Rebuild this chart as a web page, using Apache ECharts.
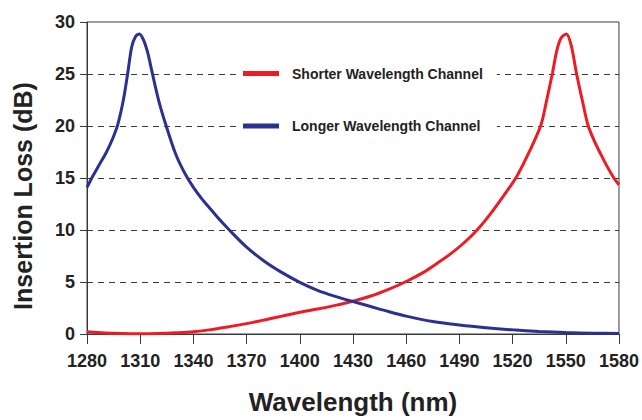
<!DOCTYPE html>
<html>
<head>
<meta charset="utf-8">
<script src="https://cdn.jsdelivr.net/npm/echarts@6/dist/echarts.min.js"></script>
<style>
html,body{margin:0;padding:0;background:#fff;}
#chart{width:642px;height:420px;}
</style>
</head>
<body>
<div id="chart"></div>
<script>
var seriesNames = ['Shorter Wavelength Channel', 'Longer Wavelength Channel'];
var xTicks = [1280, 1310, 1340, 1370, 1400, 1430, 1460, 1490, 1520, 1550, 1580];
var yTicks = [0, 5, 10, 15, 20, 25, 30];

var redX = [1280, 1290, 1300, 1310, 1320, 1330, 1340, 1350, 1360, 1370, 1380, 1390, 1400, 1410, 1420, 1430, 1440, 1450, 1460, 1470, 1477.5, 1485, 1492.5, 1500, 1507.5, 1515, 1522.5, 1529.5, 1536, 1539, 1542.5, 1545, 1547.5, 1550.3, 1553, 1556, 1559.4, 1562.5, 1566, 1570, 1574, 1577.5, 1580];
var redY = [0.22, 0.1, 0.04, 0.02, 0.05, 0.12, 0.22, 0.42, 0.7, 1.0, 1.35, 1.72, 2.1, 2.4, 2.75, 3.15, 3.65, 4.3, 5.05, 5.95, 6.8, 7.7, 8.75, 10.0, 11.55, 13.3, 15.2, 17.55, 20.1, 22.3, 25.1, 27.3, 28.5, 28.85, 27.8, 25.1, 22.4, 20.1, 18.6, 17.2, 15.9, 14.9, 14.35];

var blueX = [1280, 1283, 1287, 1291, 1294.5, 1297.3, 1300.5, 1302.9, 1305.2, 1307.4, 1309.5, 1311.8, 1314.3, 1316.8, 1320.5, 1324.5, 1330, 1335, 1340, 1345, 1350, 1355, 1360, 1370, 1380, 1390, 1400, 1410, 1420, 1430, 1440, 1450, 1460, 1475, 1490, 1505, 1520, 1535, 1550, 1565, 1580];
var blueY = [14.1, 15.1, 16.3, 17.5, 18.8, 20.1, 22.5, 25.0, 27.6, 28.6, 28.85, 28.3, 27.0, 25.1, 22.4, 20.1, 17.3, 15.5, 14.1, 12.95, 11.95, 10.95, 10.05, 8.35, 7.0, 5.9, 4.97, 4.2, 3.62, 3.12, 2.64, 2.16, 1.72, 1.2, 0.86, 0.6, 0.4, 0.25, 0.14, 0.08, 0.05];

function pairs(xs, ys) {
  return xs.map(function (x, i) { return [x, ys[i]]; });
}

var chart = echarts.init(document.getElementById('chart'), null, {renderer: 'svg'});
var txt = '#222';
var axisCol = '#3a3a3a';
var font = 'Liberation Sans, Arial, sans-serif';

chart.setOption({
  animation: false,
  backgroundColor: '#fff',
  grid: {
    left: 87, right: 22, top: 22, bottom: 82.5,
    show: true, borderColor: axisCol, borderWidth: 1, backgroundColor: 'transparent'
  },
  legend: {
    orient: 'vertical',
    left: 239,
    top: 62.5,
    itemGap: 38.5,
    itemWidth: 36,
    itemHeight: 5,
    icon: 'rect',
    backgroundColor: '#fff',
    padding: [4, 14, 4, 4],
    textStyle: {fontFamily: font, fontWeight: 'bold', fontSize: 14, color: txt, padding: [0, 0, 0, 8]},
    data: seriesNames
  },
  xAxis: {
    type: 'value',
    min: xTicks[0],
    max: xTicks[xTicks.length - 1],
    interval: xTicks[1] - xTicks[0],
    name: 'Wavelength (nm)',
    nameLocation: 'middle',
    nameGap: 55,
    nameTextStyle: {fontFamily: font, fontWeight: 'bold', fontSize: 26, color: txt},
    axisLine: {show: true, lineStyle: {color: axisCol, width: 1}},
    axisTick: {show: true, length: 10, lineStyle: {color: axisCol, width: 1}},
    axisLabel: {margin: 18, fontFamily: font, fontWeight: 'bold', fontSize: 18, color: txt,
      formatter: function (v) { return String(v); }},
    splitLine: {show: false}
  },
  yAxis: {
    type: 'value',
    min: yTicks[0],
    max: yTicks[yTicks.length - 1],
    interval: yTicks[1] - yTicks[0],
    name: 'Insertion Loss (dB)',
    nameLocation: 'middle',
    nameGap: 52,
    nameTextStyle: {fontFamily: font, fontWeight: 'bold', fontSize: 25, color: txt, padding: [0, 36, 0, 0]},
    axisLine: {show: true, lineStyle: {color: axisCol, width: 1}},
    axisTick: {show: true, length: 7, lineStyle: {color: axisCol, width: 1}},
    axisLabel: {margin: 12, fontFamily: font, fontWeight: 'bold', fontSize: 18, color: txt},
    splitLine: {show: true, showMinLine: false, showMaxLine: false, lineStyle: {color: axisCol, width: 1, type: [6, 5]}}
  },
  series: [
    {
      name: seriesNames[0],
      type: 'line',
      data: pairs(redX, redY),
      smooth: 0.3,
      showSymbol: false,
      symbol: 'none',
      color: '#ed1c24',
      lineStyle: {color: '#ed1c24', width: 3},
      z: 3
    },
    {
      name: seriesNames[1],
      type: 'line',
      data: pairs(blueX, blueY),
      smooth: 0.3,
      showSymbol: false,
      symbol: 'none',
      color: '#2b3190',
      lineStyle: {color: '#2b3190', width: 3},
      z: 3
    }
  ]
});
</script>
</body>
</html>
